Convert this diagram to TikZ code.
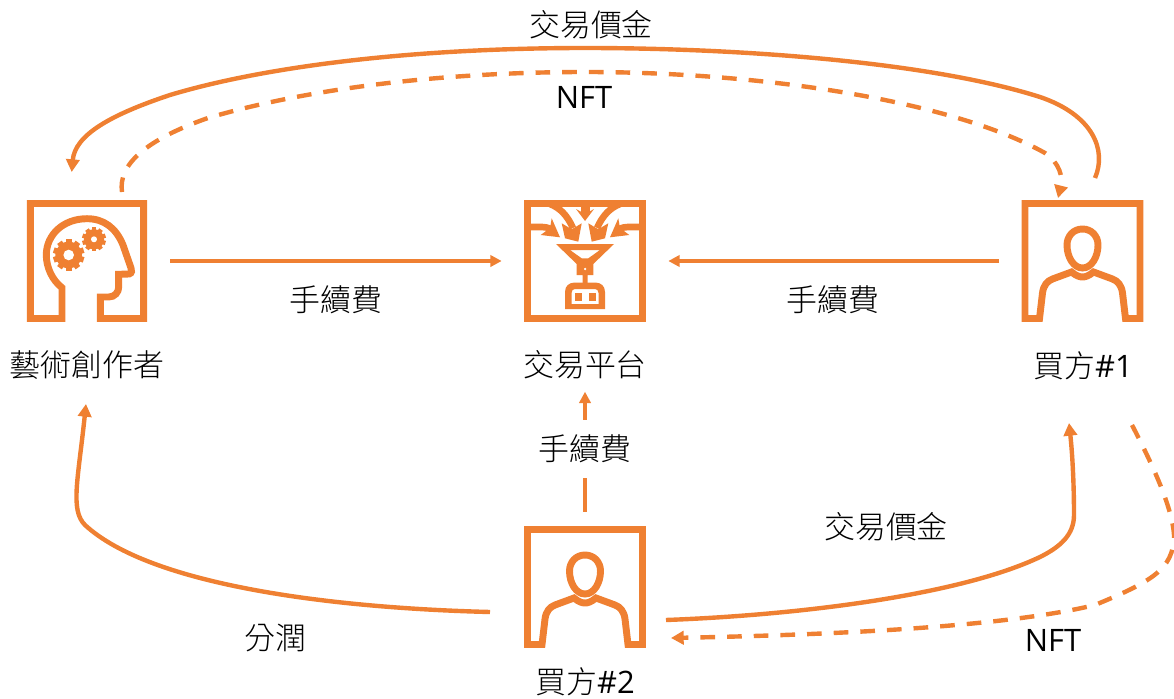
\documentclass[tikz,border=0pt]{standalone}
\usepackage{fontspec}
\setmainfont{Open Sans}
\newfontfamily\cjk{Noto Sans CJK TC Light}
\usetikzlibrary{arrows.meta}
\definecolor{nftorange}{RGB}{239,128,50}
\tikzset{every picture/.style={line width=0.75pt},
  every pic/.style={yscale=-1},
  iconbox/.style={minimum size=90pt,inner sep=0pt,outer sep=17.5pt},
  frame/.style={draw=nftorange,line width=5.2pt,miter limit=10},
  flowbig/.style={draw=nftorange,line width=3.3pt,-{Triangle[length=9.5pt,width=10pt]}},
  flowsmall/.style={draw=nftorange,line width=2.5pt,-{Triangle[length=8.5pt,width=8.5pt]}},
  flowdash/.style={flowbig,dash pattern=on 11pt off 9pt},
  caption/.style={font=\fontsize{23.2}{27}\selectfont,text=black,inner sep=0pt},
  pics/buyer/.style={code={
    \draw[frame] (-43,57.5) -- (-57.5,57.5) -- (-57.5,-57.5) -- (57.5,-57.5) -- (57.5,57.5) -- (43,57.5) -- (40,32) .. controls (39,24) and (35,20) .. (30,18) -- (11,11) .. controls (6,15) and (3,16) .. (0,16) .. controls (-3,16) and (-6,15) .. (-11,11) -- (-30,18) .. controls (-35,20) and (-39,24) .. (-40,32) -- cycle;
    \draw[frame] (0,-32) .. controls (9,-32) and (15.5,-25) .. (15.5,-16) .. controls (15.5,-4) and (9,7) .. (0,7) .. controls (-9,7) and (-15.5,-4) .. (-15.5,-16) .. controls (-15.5,-25) and (-9,-32) .. (0,-32) -- cycle;
  }},
  pics/gear/.style 2 args={code={
    \fill[nftorange] (0,0) circle (#1*0.85);
    \foreach \a in {0,36,...,324}
      \fill[nftorange,rotate=\a] (-#1*0.18,-#1) rectangle (#1*0.18,-#1*0.7);
    \fill[white] (0,0) circle (#2);
  }},
  pics/artistface/.style={code={
    \draw[frame] (-25,57.5) -- (-56.7,57.5) -- (-56.7,-57.5) -- (56.7,-57.5) -- (56.7,57.5) -- (13.3,57.5) -- (13.3,36) -- (21.7,36) .. controls (28,36) and (31.7,31) .. (31.7,26) -- (31.7,13.3) -- (42,13) .. controls (45,12.5) and (45,9) .. (44,7) -- (36,-16) .. controls (29,-33) and (17,-42.3) .. (0,-42.3) .. controls (-24,-42.3) and (-40.7,-26) .. (-40.7,-6) .. controls (-40.7,6) and (-35,19) .. (-25,26.7) -- cycle;
    \pic at (-18.3,-6) {gear={15.7}{5.3}};
    \pic at (7,-21.7) {gear={12}{3}};
  }},
  pics/funnel/.style={code={
    \draw[frame] (-57.5,-57.5) rectangle (57.5,57.5);
    % incoming arrows
    \draw[nftorange,line width=5pt] (-57,-34) -- (-43,-34) .. controls (-40,-34) and (-38,-33.5) .. (-34,-32);
    \draw[nftorange,line width=5pt] (57,-34) -- (43,-34) .. controls (40,-34) and (38,-33.5) .. (34,-32);
    \draw[nftorange,line width=5pt] (-35,-57) .. controls (-25,-53) and (-18,-46) .. (-12,-33);
    \draw[nftorange,line width=5pt] (35,-57) .. controls (25,-53) and (18,-46) .. (12,-33);
    \fill[nftorange] (-4.5,-57) rectangle (4.5,-46);
    \fill[nftorange] (-33.3,-42.7) -- (-35,-33) -- (-44.3,-26) -- (-25,-23.7) -- cycle;
    \fill[nftorange] (33.3,-42.7) -- (35,-33) -- (44.3,-26) -- (25,-23.7) -- cycle;
    \fill[nftorange] (-23.3,-37.7) -- (-13.3,-31.7) -- (-3.3,-37.7) -- (-6.7,-19.3) -- (-20,-22.7) -- cycle;
    \fill[nftorange] (23.3,-37.7) -- (13.3,-31.7) -- (3.3,-37.7) -- (6.7,-19.3) -- (20,-22.7) -- cycle;
    \fill[nftorange] (-9,-52) -- (0,-47) -- (9,-52) -- (0,-40) -- cycle;
    % funnel and robot
    \fill[nftorange,even odd rule] (-29,-17) -- (29,-17) -- (8.3,3) -- (8.3,14) -- (2.5,14) -- (2.5,22) -- (-2.5,22) -- (-2.5,14) -- (-8.3,14) -- (-8.3,3) -- cycle
      (-15,-11) -- (15,-11) -- (3.3,-2.7) -- (-3.3,-2.7) -- cycle
      (0,8) circle (1.5);
    \fill[nftorange,even odd rule] (-20,48) -- (-20,31) .. controls (-20,25) and (-16,21.5) .. (-10,21.5) -- (10,21.5) .. controls (16,21.5) and (20,25) .. (20,31) -- (20,48) -- cycle
      (-13.5,43) -- (-13.5,32) .. controls (-13.5,29.5) and (-12,28) .. (-10,28) -- (10,28) .. controls (12,28) and (13.5,29.5) .. (13.5,32) -- (13.5,43) -- cycle;
    \fill[nftorange] (-10.5,32) rectangle (-3.5,39.5);
    \fill[nftorange] (3.5,32) rectangle (10.5,39.5);
  }}
}

\begin{document}
\begin{tikzpicture}[x=0.75pt,y=0.75pt,yscale=-1,xscale=1]
\useasboundingbox (0,0) rectangle (1174,699);

% Icons
\node (artist) [iconbox] at (87,261) {};
\node (platform) [iconbox] at (585,261) {};
\node (buyerOne) [iconbox] at (1082.5,261) {};
\node (buyerTwo) [iconbox] at (585,587) {};
\pic at (artist) {artistface};
\pic at (platform) {funnel};
\pic at (buyerOne) {buyer};
\pic at (buyerTwo) {buyer};

% Text Node
\node (artistText) [caption] at (87,365) {\cjk 藝術創作者};
\node (platformText) [caption,inner ysep=9pt] at (585,365) {\cjk 交易平台};
\node (buyerOneText) [caption] at (1083,366) {{\cjk 買方}\#1};
\node (buyerTwoText) [caption] at (585,682) {{\cjk 買方}\#2};

% Curve ends
\coordinate (topOut) at (1095,178);
\coordinate (topIn) at (71.7,172);
\coordinate (nftOut) at (122,192);
\coordinate (nftIn) at (1058,198);
\coordinate (shareOut) at (490,612);
\coordinate (shareIn) at (86,404);
\coordinate (payOut) at (666,620);
\coordinate (payIn) at (1069,423);
\coordinate (resaleOut) at (1132,425);
\coordinate (resaleIn) at (671,638);

% Fee arrows
\draw[flowsmall] (artist) -- (platform);
\draw[flowsmall] (buyerOne) -- (platform);
\draw[flowsmall,shorten <=-6pt] (buyerTwo) -- (platformText);

% Payments
\draw[flowbig] (topOut) .. controls (1107,150) and (1093,115) .. (1040,97) .. controls (930,62) and (740,48) .. (585,48) .. controls (420,48) and (270,65) .. (170,95) .. controls (110,115) and (75,135) .. (topIn);
\draw[flowdash] (nftOut) .. controls (118,165) and (145,140) .. (208,118) .. controls (320,85) and (460,72) .. (585,72) .. controls (760,72) and (950,100) .. (1045,153) .. controls (1060,163) and (1063,178) .. (nftIn);
\draw[flowbig] (shareOut) .. controls (330,608) and (150,585) .. (85,525) .. controls (70,510) and (78,480) .. (shareIn);
\draw[flowbig] (payOut) .. controls (800,615) and (960,595) .. (1040,557) .. controls (1060,547) and (1074,535) .. (1074,515) .. controls (1074,480) and (1072,450) .. (payIn);
\draw[flowdash] (resaleOut) .. controls (1150,460) and (1172,505) .. (1174,535) .. controls (1174,570) and (1150,582) .. (1095,605) .. controls (1000,628) and (820,635) .. (resaleIn);

% Labels
\node (topPrice) [caption] at (591,25) {\cjk 交易價金};
\node (topNft) [caption] at (584,97) {NFT};
\node (feeLeft) [caption] at (336,300) {\cjk 手續費};
\node (feeRight) [caption] at (833,300) {\cjk 手續費};
\node (feeBottom) [caption,fill=white,minimum height=43pt] at (585,449) {\cjk 手續費};
\node (payPrice) [caption] at (886,527) {\cjk 交易價金};
\node (sharePrice) [caption] at (275,638) {\cjk 分潤};
\node (resaleNft) [caption] at (1053,640) {NFT};

\end{tikzpicture}
\end{document}
